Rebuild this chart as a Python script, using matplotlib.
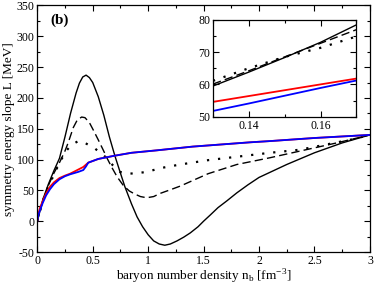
import numpy as np
import matplotlib
matplotlib.use("Agg")
import matplotlib.pyplot as plt
from matplotlib.ticker import MultipleLocator, FuncFormatter

plt.rcParams['font.family'] = ['Liberation Serif', 'DejaVu Serif']
plt.rcParams['mathtext.fontset'] = 'custom'
plt.rcParams['mathtext.rm'] = 'Liberation Serif'

# main panel data (n_b [fm^-3], L [MeV])
n_solid = [0, 0.05, 0.1, 0.15, 0.2, 0.25, 0.3, 0.35, 0.38, 0.41, 0.44, 0.47, 0.5, 0.55,
           0.6, 0.65, 0.7, 0.75, 0.79, 0.85, 0.9, 0.95, 1.0, 1.05, 1.1, 1.15, 1.2, 1.26,
           1.32, 1.38, 1.45, 1.5, 1.56, 1.63, 1.71, 1.8, 1.9, 2.0, 2.25, 2.5, 2.75, 3.0]
L_solid = [0, 35, 60, 82, 102, 137, 175, 208, 224, 234, 237, 233, 225, 202,
           172, 137, 106, 78, 56, 28, 7, -9, -22, -32, -37, -39, -37, -32,
           -26, -19, -9, 0, 10, 22, 33, 46, 59, 71, 92, 111, 127, 140]

n_dash = [0, 0.05, 0.1, 0.15, 0.2, 0.25, 0.28, 0.325, 0.36, 0.40, 0.43, 0.47, 0.505, 0.55,
          0.596, 0.63, 0.67, 0.72, 0.776, 0.83, 0.88, 0.93, 0.987, 1.05, 1.107, 1.2,
          1.29, 1.54, 1.8, 2.1, 2.4, 2.7, 3.0]
L_dash = [0, 33, 58, 78, 95, 114, 128, 152, 164, 169, 168, 160, 148, 132,
          115, 102, 88, 72, 58, 49, 44, 40, 38, 40, 45, 51,
          57, 77, 92, 103, 115, 127, 140]

n_dot = [0, 0.05, 0.1, 0.15, 0.2, 0.265, 0.31, 0.37, 0.42, 0.47, 0.52, 0.56, 0.61, 0.68,
         0.746, 0.82, 0.9, 0.99, 1.107, 1.29, 1.54, 2.1, 2.37, 2.82, 3.0]
L_dot = [0, 33, 57, 75, 95, 115, 124, 130, 128, 123, 118, 112, 105, 91,
         80, 77, 78, 80, 86, 92, 99, 111, 116, 132, 140]

n_red = [0, 0.01, 0.025, 0.05, 0.08, 0.115, 0.15, 0.2, 0.25, 0.295, 0.35, 0.415, 0.46,
         0.55, 0.69, 0.85, 1.08, 1.4, 1.92, 2.1, 2.5, 3.0]
L_red = [0, 12, 22, 33, 45, 56, 63, 70, 74, 77, 82, 88, 95,
         101, 106, 111, 115, 121, 128, 130, 135, 140]

n_blue = [0, 0.01, 0.025, 0.05, 0.08, 0.115, 0.15, 0.2, 0.25, 0.295, 0.37, 0.415, 0.44,
          0.46, 0.55, 0.69, 0.85, 1.08, 1.4, 1.92, 2.1, 2.5, 3.0]
L_blue = [0, 10, 18, 30, 42, 52, 60, 68, 73, 76, 80, 83, 89,
          95, 101, 106, 111, 115, 121, 128, 130, 135, 140]

# inset data
n_in = [0.13, 0.14, 0.15, 0.16, 0.17]
L_in_solid = [59.5, 63.8, 68.3, 73.0, 78.4]
L_in_dash = [60.1, 64.2, 68.5, 72.7, 76.9]
L_in_dot = [61.1, 65.0, 68.5, 71.3, 74.8]
L_in_red = [54.6, 56.4, 58.2, 60.0, 61.8]
L_in_blue = [51.8, 54.1, 56.5, 58.9, 61.2]

fig = plt.figure(figsize=(3.74, 2.89), dpi=100)
ax = fig.add_axes([0.0997, 0.128, 0.8893, 0.853])

dash = (0, (6, 3))
dots = (0, (1, 4))

def draw(a, x, ys, lw=1.0):
    s, d, o, r, b = ys
    a.plot(x[0], s, color='black', lw=lw)
    a.plot(x[1], d, color='black', lw=lw, ls=dash)
    a.plot(x[2], o, color='black', lw=lw * 1.6, ls=dots)
    a.plot(x[3], r, color='red', lw=lw * 1.3)
    a.plot(x[4], b, color='blue', lw=lw * 1.3)

draw(ax, [n_solid, n_dash, n_dot, n_red, n_blue], [L_solid, L_dash, L_dot, L_red, L_blue])

def style(a, fs):
    a.tick_params(which='both', direction='in', top=True, right=True, labelsize=fs, pad=2)
    a.tick_params(which='major', length=4, width=0.8)
    a.tick_params(which='minor', length=2.5, width=0.8)
    for sp in a.spines.values():
        sp.set_linewidth(0.9)

fmt = FuncFormatter(lambda v, p: '%g' % v)
ax.set_xlim(0, 3)
ax.set_ylim(-50, 350)
ax.xaxis.set_major_locator(MultipleLocator(0.5))
ax.xaxis.set_minor_locator(MultipleLocator(0.25))
ax.yaxis.set_major_locator(MultipleLocator(50))
ax.yaxis.set_minor_locator(MultipleLocator(25))
ax.xaxis.set_major_formatter(fmt)
ax.yaxis.set_major_formatter(fmt)
style(ax, 8.5)
ax.set_xlabel(r'baryon number density n$_\mathrm{b}$ [fm$^{-3}$]', fontsize=9.5, labelpad=1)
ax.set_ylabel('symmetry energy slope L [MeV]', fontsize=9.5, labelpad=1)
ax.text(0.04, 0.94, '(b)', transform=ax.transAxes, fontsize=11, fontweight='bold',
        ha='left', va='center')

ins = fig.add_axes([0.5695, 0.596, 0.3835, 0.336])
draw(ins, [n_in] * 5, [L_in_solid, L_in_dash, L_in_dot, L_in_red, L_in_blue])
ins.set_xlim(0.13, 0.17)
ins.set_ylim(50, 80)
ins.xaxis.set_major_locator(MultipleLocator(0.02))
ins.xaxis.set_minor_locator(MultipleLocator(0.01))
ins.yaxis.set_major_locator(MultipleLocator(10))
ins.yaxis.set_minor_locator(MultipleLocator(5))
style(ins, 8.5)
ins.set_xticks([0.14, 0.16])
ins.set_xticklabels(['0.14', '0.16'])

fig.savefig('out.png', dpi=100)
